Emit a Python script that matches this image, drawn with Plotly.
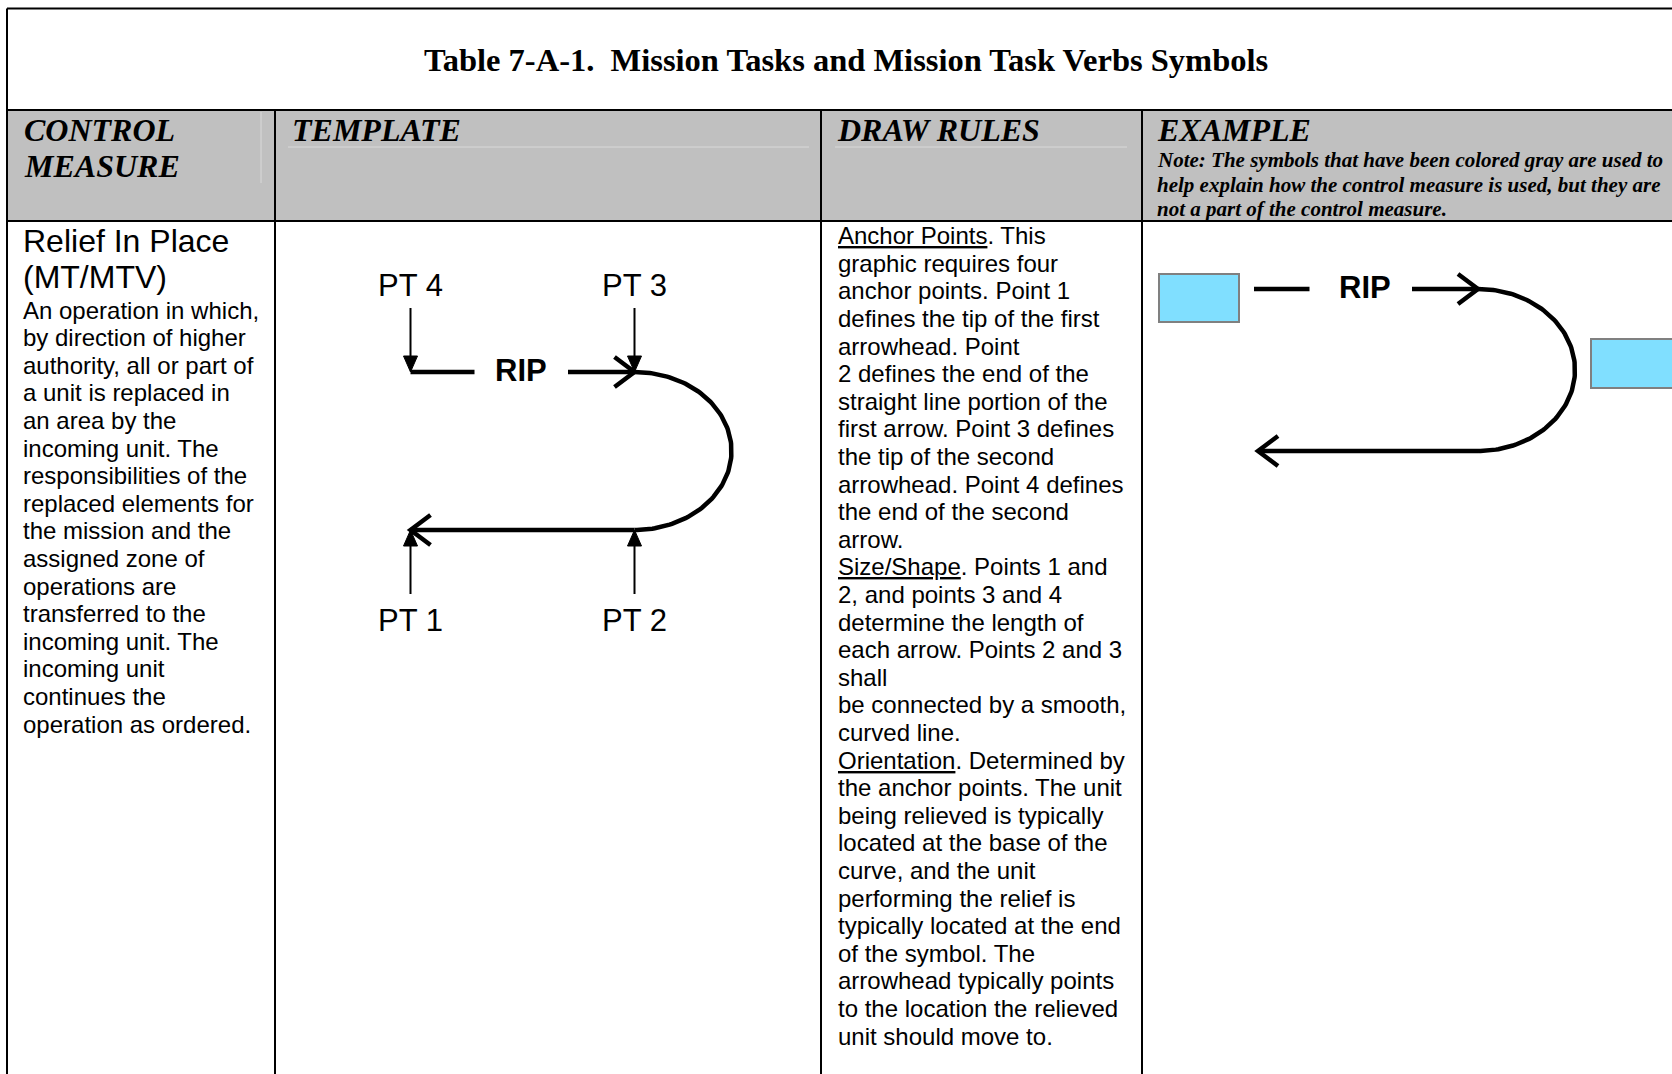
import numpy as np
import plotly.graph_objects as go

W, H = 1672, 1074

# ---------------- text content ----------------
title_text = "Table 7-A-1.\u00a0\u00a0Mission Tasks and Mission Task Verbs Symbols"
header_labels = [["CONTROL", "MEASURE"], ["TEMPLATE"], ["DRAW RULES"], ["EXAMPLE"]]
note_lines = [
    "Note: The symbols that have been colored gray are used to",
    "help explain how the control measure is used, but they are",
    "not a part of the control measure.",
]
name_lines = ["Relief In Place", "(MT/MTV)"]
desc_lines = [
    "An operation in which,", "by direction of higher", "authority, all or part of",
    "a unit is replaced in", "an area by the", "incoming unit. The",
    "responsibilities of the", "replaced elements for", "the mission and the",
    "assigned zone of", "operations are", "transferred to the",
    "incoming unit. The", "incoming unit", "continues the", "operation as ordered.",
]
rules_lines = [
    "<u>Anchor Points</u>. This", "graphic requires four", "anchor points. Point 1",
    "defines the tip of the first", "arrowhead. Point", "2 defines the end of the",
    "straight line portion of the", "first arrow. Point 3 defines", "the tip of the second",
    "arrowhead. Point 4 defines", "the end of the second", "arrow.",
    "<u>Size/Shape</u>. Points 1 and", "2, and points 3 and 4", "determine the length of",
    "each arrow. Points 2 and 3", "shall", "be connected by a smooth,", "curved line.",
    "<u>Orientation</u>. Determined by", "the anchor points. The unit",
    "being relieved is typically", "located at the base of the", "curve, and the unit",
    "performing the relief is", "typically located at the end", "of the symbol. The",
    "arrowhead typically points", "to the location the relieved", "unit should move to.",
]
pt_labels = ["PT 1", "PT 2", "PT 3", "PT 4"]
symbol_label = "RIP"

# ---------------- table layout ----------------
col_edges = [7, 275, 821, 1142, 1700]
row_edges = [8.5, 110, 221, 1080]

# ---------------- template anchor points (PT1..PT4) ----------------
tmpl_x = [410.5, 634.5, 634.5, 410.5]
tmpl_y = [530, 530, 372, 372]
tmpl_gap = [474.5, 568]          # gap around RIP text on top arrow
tmpl_label_x = 521
tmpl_curve_rx = 97

# ---------------- example anchor points ----------------
ex_x = [1258, 1478, 1478, 1254]
ex_y = [451, 451, 289, 289]
ex_gap = [1309.5, 1412]
ex_label_x = 1365
ex_curve_rx = 97
unit_boxes = [[1159, 1239, 274, 322], [1591, 1710, 339, 388]]

SERIF = "Liberation Serif"
SANS = "Liberation Sans"

fig = go.Figure()
shapes = []
ann = []

def add_line(xs, ys, width, color="black"):
    fig.add_trace(go.Scatter(x=xs, y=ys, mode="lines", line=dict(color=color, width=width),
                             hoverinfo="skip", showlegend=False))

def add_fill(xs, ys, color="black"):
    fig.add_trace(go.Scatter(x=xs, y=ys, mode="lines", fill="toself", fillcolor=color,
                             line=dict(color=color, width=1), hoverinfo="skip", showlegend=False))

# header background
shapes.append(dict(type="rect", xref="x", yref="y", x0=col_edges[0], x1=col_edges[-1],
                   y0=row_edges[1], y1=row_edges[2], fillcolor="#c0c0c0", line=dict(width=0),
                   layer="below"))
# faint inner lines of header
faint = "#d9d9d9"
shapes.append(dict(type="line", xref="x", yref="y", x0=261, x1=261, y0=112, y1=183,
                   line=dict(color=faint, width=1)))
shapes.append(dict(type="line", xref="x", yref="y", x0=288, x1=809, y0=147, y1=147,
                   line=dict(color=faint, width=1)))
shapes.append(dict(type="line", xref="x", yref="y", x0=835, x1=1127, y0=147, y1=147,
                   line=dict(color=faint, width=1)))

# table grid
lw = 2
shapes.append(dict(type="line", xref="x", yref="y", x0=col_edges[0], x1=col_edges[-1],
                   y0=row_edges[0], y1=row_edges[0], line=dict(color="black", width=lw)))
for r in row_edges[1:3]:
    shapes.append(dict(type="line", xref="x", yref="y", x0=col_edges[0], x1=col_edges[-1],
                       y0=r, y1=r, line=dict(color="black", width=lw)))
shapes.append(dict(type="line", xref="x", yref="y", x0=col_edges[0], x1=col_edges[0],
                   y0=row_edges[0], y1=row_edges[-1], line=dict(color="black", width=lw)))
for c in col_edges[1:4]:
    shapes.append(dict(type="line", xref="x", yref="y", x0=c, x1=c,
                       y0=row_edges[1], y1=row_edges[-1], line=dict(color="black", width=lw)))

# ---------------- texts ----------------
def text(x, y, s, size, family, bold=False, italic=False, xanchor="left"):
    if bold:
        s = "<b>" + s + "</b>"
    if italic:
        s = "<i>" + s + "</i>"
    ann.append(dict(x=x, y=y, xref="x", yref="y", text=s, showarrow=False,
                    xanchor=xanchor, yanchor="middle", align="left",
                    font=dict(family=family, size=size, color="black")))

text(846, 59.5, title_text, 32.5, SERIF, bold=True, xanchor="center")

hdr_x = [22, 290, 835, 1155]
for hx, lines in zip(hdr_x, header_labels):
    for i, s in enumerate(lines):
        text(hx, 130 + 36 * i, s, 32, SERIF, bold=True, italic=True)
for i, s in enumerate(note_lines):
    text(1155, 160 + 24.5 * i, s, 21, SERIF, bold=True, italic=True)

text(21, 241, name_lines[0], 32, SANS)
text(21, 277, name_lines[1], 32, SANS)
for i, s in enumerate(desc_lines):
    text(21, 310 + 27.6 * i, s, 24, SANS)
for i, s in enumerate(rules_lines):
    text(836, 235.6 + 27.6 * i, s, 24, SANS)

# ---------------- symbol drawing ----------------
def draw_symbol(px, py, gap, label_x, rx, thick):
    # top arrow: PT4 -> PT3 with gap for label
    add_line([px[3], gap[0]], [py[3], py[3]], thick)
    add_line([gap[1], px[2]], [py[2], py[2]], thick)
    # chevron at PT3 (pointing right)
    add_line([px[2] - 20, px[2], px[2] - 20], [py[2] - 15, py[2], py[2] + 15], thick)
    # curve PT3 -> PT2
    cy = (py[2] + py[1]) / 2
    ry = (py[1] - py[2]) / 2
    t = np.linspace(-np.pi / 2, np.pi / 2, 120)
    add_line(px[2] + rx * np.cos(t), cy + ry * np.sin(t), thick)
    # bottom arrow PT2 -> PT1
    add_line([px[1], px[0]], [py[1], py[0]], thick)
    add_line([px[0] + 20, px[0], px[0] + 20], [py[0] - 15, py[0], py[0] + 15], thick)
    # label
    text(label_x, py[3] - 2, symbol_label, 31, SANS, bold=True, xanchor="center")

draw_symbol(tmpl_x, tmpl_y, tmpl_gap, tmpl_label_x, tmpl_curve_rx, 4.5)
draw_symbol(ex_x, ex_y, ex_gap, ex_label_x, ex_curve_rx, 4.5)

# pointer arrows + PT labels for template
for i, (x, y) in enumerate(zip(tmpl_x, tmpl_y)):
    below = i < 2
    sgn = 1 if below else -1
    tail = y + sgn * 64
    add_line([x, x], [tail, y + sgn * 14], 2)
    add_fill([x - 7, x, x + 7, x - 7], [y + sgn * 16, y, y + sgn * 16, y + sgn * 16])
    text(x, y + sgn * (90 if below else 87), pt_labels[i], 31, SANS, xanchor="center")

# unit boxes in example
for b in unit_boxes:
    shapes.append(dict(type="rect", xref="x", yref="y", x0=b[0], x1=b[1], y0=b[2], y1=b[3],
                       fillcolor="#80dfff", line=dict(color="#808080", width=2)))

fig.update_layout(
    width=W, height=H, margin=dict(l=0, r=0, t=0, b=0),
    paper_bgcolor="white", plot_bgcolor="white",
    xaxis=dict(range=[0, W], visible=False, fixedrange=True),
    yaxis=dict(range=[H, 0], visible=False, fixedrange=True),
    shapes=shapes, annotations=ann, showlegend=False,
)
fig.write_html("out.html", config={"displayModeBar": False},
               post_script="document.body.style.margin='0';document.body.style.overflow='hidden';")
